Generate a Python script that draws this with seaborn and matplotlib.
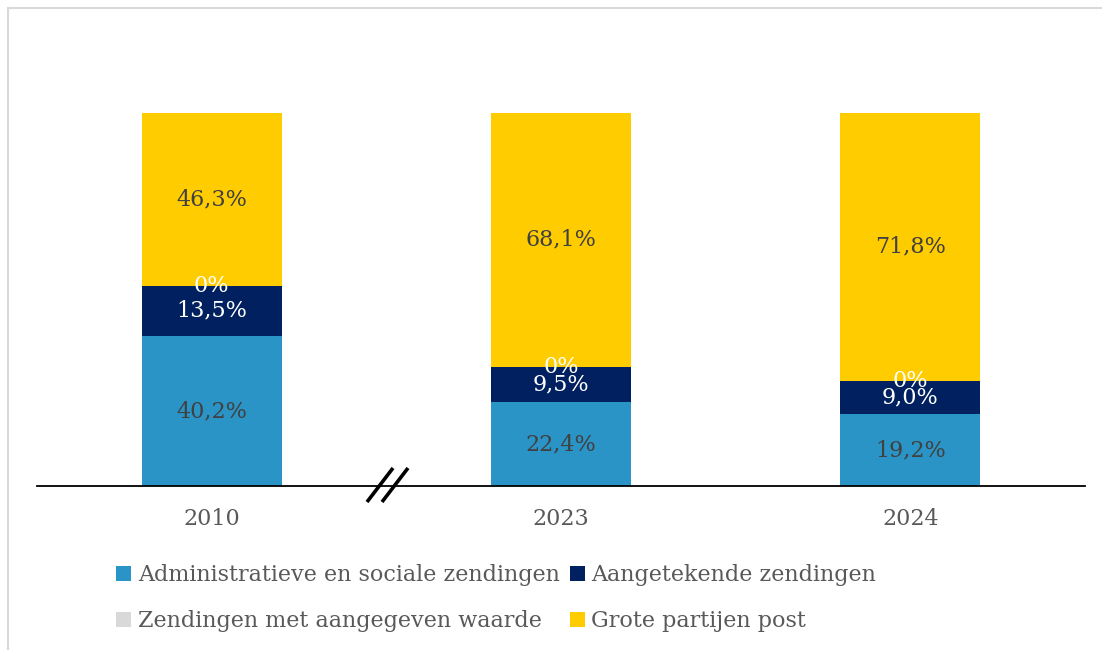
import matplotlib
matplotlib.use("Agg")
import matplotlib.pyplot as plt
import seaborn as sns
import numpy as np
from matplotlib.lines import Line2D
from matplotlib.patches import Patch

years = ["2010", "2023", "2024"]
series_names = ["Administratieve en sociale zendingen", "Aangetekende zendingen",
                "Zendingen met aangegeven waarde", "Grote partijen post"]
admin = [40.2, 22.4, 19.2]
aangetekend = [13.5, 9.5, 9.0]
waarde = [0.0, 0.0, 0.0]
grote = [46.3, 68.1, 71.8]
series_values = [admin, aangetekend, waarde, grote]
colors = ["#2B94C7", "#002060", "#D9D9D9", "#FFCC00"]
label_colors = ["#404040", "white", "white", "#404040"]

sns.set_theme(style="white")
plt.rcParams['font.family'] = ['DejaVu Serif', 'DejaVu Sans']

fig = plt.figure(figsize=(11.02, 6.5), dpi=100)
W, H = 1102, 650
ax = fig.add_axes([37 / W, 1 - 486 / H, (1085 - 37) / W, (486 - 38) / H])

bottom = np.zeros(len(years))
for name, vals, col, lc in zip(series_names, series_values, colors, label_colors):
    vals = np.array(vals, dtype=float)
    sns.barplot(x=years, y=vals, bottom=bottom, color=col, width=0.4,
                saturation=1, ax=ax, linewidth=0)
    cont = ax.containers[-1]
    labels = [("0%" if v == 0 else f"{v:.1f}".replace('.', ',') + "%") for v in vals]
    ax.bar_label(cont, labels=labels, label_type="center", color=lc, fontsize=16)
    bottom = bottom + vals

ax.set_xlim(-0.5, 2.5)
ax.set_ylim(0, 120)
ax.set_xlabel("")
ax.set_ylabel("")
ax.set_yticks([])
for s in ["top", "right", "left"]:
    ax.spines[s].set_visible(False)
ax.spines["bottom"].set_color("black")
ax.spines["bottom"].set_linewidth(1.3)
ax.tick_params(axis="x", length=0, labelsize=16, labelcolor="#595959", pad=16)

# axis break marks
for x0 in (367, 382):
    fig.add_artist(Line2D([x0 / W, (x0 + 26) / W], [1 - 502 / H, 1 - 468 / H],
                          transform=fig.transFigure, color="black", lw=2.6,
                          solid_capstyle="butt"))

# chart frame (light gray)
fig.add_artist(Line2D([8 / W, 1.0], [1 - 8 / H, 1 - 8 / H], transform=fig.transFigure,
                      color="#D9D9D9", lw=1.5))
fig.add_artist(Line2D([8 / W, 8 / W], [1 - 8 / H, 0], transform=fig.transFigure,
                      color="#D9D9D9", lw=1.5))

handles = [Patch(facecolor=c, edgecolor="none") for c in colors]
order = [0, 2, 1, 3]
fig.legend([handles[i] for i in order], [series_names[i] for i in order],
           ncol=2, loc="upper left", bbox_to_anchor=(116 / W, 1 - 564 / H),
           frameon=False, fontsize=16, labelcolor="#595959",
           handlelength=0.68, handleheight=0.68, handletextpad=0.3,
           columnspacing=0.45, labelspacing=1.1, borderpad=0, borderaxespad=0)

fig.savefig("out.png", dpi=100, facecolor="white")
